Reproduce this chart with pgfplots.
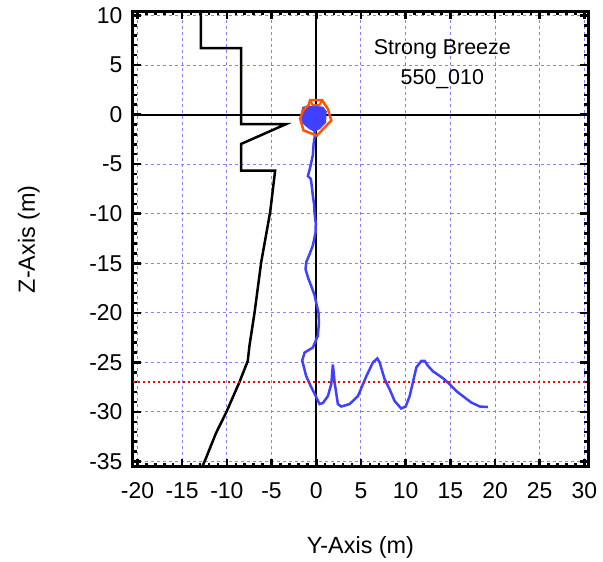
\documentclass[border=0pt]{standalone}
\usepackage{fontspec}
\setmainfont{Liberation Sans}
\usepackage{pgfplots}
\pgfplotsset{compat=1.18}
\definecolor{trajblue}{RGB}{64,64,255}
\definecolor{bodyorange}{RGB}{255,85,0}
\definecolor{gridblue}{RGB}{130,130,255}

\begin{document}
\begin{tikzpicture}
\begin{axis}[
  scale only axis, width=455bp, height=455.5bp,
  xmin=-20.5, xmax=30.4, ymin=-35.55, ymax=10.4,
  xtick={-20,-15,...,30}, ytick={-35,-30,...,10},
  minor tick num=4,
  tick align=inside,
  major tick length=8bp, minor tick length=4bp,
  every tick/.style={black, line width=2.5bp},
  axis line style={line width=3bp},
  grid=major,
  major grid style={gridblue, line width=1bp, dash pattern=on 3bp off 3bp},
  tick label style={font=\fontsize{23}{27}\selectfont},
  label style={font=\fontsize{23.5}{28}\selectfont},
  /pgf/number format/assume math mode=true,
  yticklabel style={xshift=-7bp},
  xticklabel style={yshift=-12bp},
  xlabel={Y-Axis (m)}, ylabel={Z-Axis (m)},
  xlabel style={at={(axis description cs:0.5,-0.176)}, anchor=center},
  ylabel style={at={(axis description cs:-0.229,0.5)}, anchor=center},
]
% zero lines
\addplot[black, line width=2bp] coordinates {(0,-40) (0,15)};
\addplot[black, line width=2bp] coordinates {(-25,0) (35,0)};
% profile
\addplot[black, line width=2.5bp] coordinates {
  (-12.9,11) (-12.9,6.7) (-8.4,6.7) (-8.4,-0.97) (-3.4,-0.97) (-8.4,-2.96)
  (-8.4,-5.65) (-4.6,-5.65) (-5.15,-9.8) (-6.16,-14.9) (-6.9,-19.96)
  (-7.47,-23.3) (-7.66,-24.85) (-8.6,-27.0) (-10.1,-30.1) (-11.2,-32.1) (-12.4,-34.8) (-13.0,-36)
};
% trajectory
\addplot[trajblue, line width=2.5bp] coordinates {
  (-0.19,-1.6) (-0.15,-2.1) (-0.3,-3.0) (-0.38,-4.1) (-0.55,-4.8) (-0.7,-5.4) (-0.94,-6.2)
  (-0.6,-6.5) (-0.56,-6.8) (-0.45,-7.6) (-0.38,-8.2) (-0.25,-9.0)
  (-0.19,-9.9) (-0.05,-11.0) (-0.08,-11.9) (-0.38,-13.2) (-0.8,-14.2) (-1.12,-14.9) (-1.2,-15.6)
  (-0.9,-16.5) (-0.56,-17.3) (-0.2,-18.2)
  (0,-19.0) (0.25,-20.0) (0.3,-21.0) (0.18,-22.3) (-0.38,-23.5) (-1.3,-24.0) (-1.57,-24.8)
  (-1.42,-25.35) (-1.12,-26.4) (-0.56,-27.5) (0,-28.5) (0.37,-29.2) (0.74,-29.1)
  (1.3,-28.4) (1.68,-27.2) (1.86,-25.2) (2.05,-27.0) (2.42,-29.2) (2.8,-29.45)
  (3.73,-29.2) (4.66,-28.4) (5.6,-26.4) (6.34,-25.0) (6.83,-24.6) (7.09,-25.0)
  (7.65,-26.7) (8.2,-27.7) (8.77,-28.9) (9.5,-29.65) (10.0,-29.45) (10.45,-28.4)
  (10.8,-27.05) (11.2,-25.5) (11.76,-24.85) (12.13,-24.85) (12.5,-25.35) (13.06,-25.9)
  (14.18,-26.6) (14.93,-27.2) (15.68,-27.9) (16.4,-28.4) (17.35,-29.05) (18.3,-29.45) (19.2,-29.5)
};
\addplot[trajblue, fill=trajblue, line width=1bp] coordinates {
  (-1.5,0.75) (-0.38,0.85) (0.74,0.75) (1.12,0.3) (1.04,-0.8) (0.4,-1.4)
  (-0.19,-1.7) (-0.8,-1.4) (-1.5,-0.85) (-1.7,-0.1)
} -- cycle;
% body outline
\addplot[bodyorange, line width=2.5bp] coordinates {
  (-0.7,1.45) (0.65,1.45) (1.3,0.57) (1.68,-0.6) (0.07,-2.12) (-1.42,-1.6)
  (-1.8,-0.43) (-1.5,0.4) (-0.83,0.98)
} -- cycle;
\addplot[bodyorange, line width=2bp] coordinates {(-0.7,1.45) (-0.4,0.95) (0.35,0.95) (0.65,1.45)};
% mean depth
\addplot[red, line width=2.5bp, dash pattern=on 2.5bp off 2.5bp] coordinates {(-25,-27) (35,-27)};
\node[align=center, font=\fontsize{21.5}{30}\selectfont] at (axis cs:14.1,5.1) {Strong Breeze\\550\_010};
\coordinate (bl) at (rel axis cs:0,0);
\coordinate (tr) at (rel axis cs:1,1);
\end{axis}
\path (bl) ++(-133bp,-93bp) (tr) ++(15bp,11.5bp);
\end{tikzpicture}
\end{document}
